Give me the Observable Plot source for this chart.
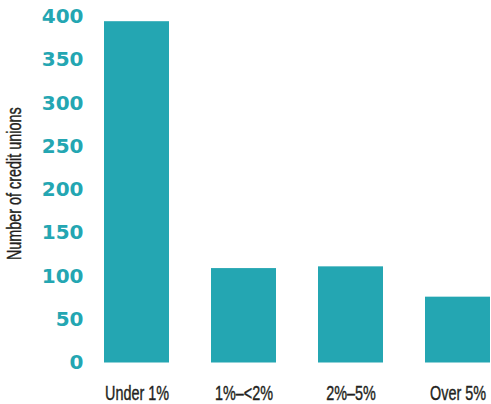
<!DOCTYPE html>
<html>
<head>
<meta charset="utf-8">
<script src="https://cdn.jsdelivr.net/npm/d3@7"></script>
<script src="https://cdn.jsdelivr.net/npm/@observablehq/plot@0.6"></script>
<style>
  html, body { margin: 0; padding: 0; background: #fff; }
  #chart svg { display: block; }
</style>
</head>
<body>
<div id="chart"></div>
<script>
const categories = ["Under 1%", "1%\u2013<2%", "2%\u20135%", "Over 5%"];
const counts = [394, 109, 111, 76];
const yTicks = [0, 50, 100, 150, 200, 250, 300, 350, 400];
const yLabel = "Number of credit unions";

const data = categories.map((c, i) => ({category: c, count: counts[i]}));
const teal = "#24a6b2";
const ink = "#231f20";
const sans = "'Liberation Sans', Arial, sans-serif";
const condense = 0.72;

const chart = Plot.plot({
  width: 491,
  height: 404,
  marginLeft: 104,
  marginRight: 0,
  marginTop: 16,
  marginBottom: 41.5,
  style: {background: "#fff", fontFamily: sans},
  x: {domain: categories, paddingInner: 0.39, paddingOuter: 0, label: null},
  y: {domain: [0, 400], label: null},
  marks: [
    Plot.barY(data, {x: "category", y: "count", fill: teal}),
    Plot.axisY({
      ticks: yTicks, tickSize: 0, tickPadding: 21, label: null,
      fill: teal, fontSize: 20, fontWeight: "bold",
      fontFamily: "'DejaVu Sans', sans-serif"
    }),
    Plot.axisX({
      tickSize: 0, tickPadding: 23, label: null,
      fill: ink, fontSize: 20, fontFamily: sans
    }),
    Plot.text([yLabel], {
      frameAnchor: "left", rotate: -90, dx: -90, dy: -6,
      fontSize: 20, fill: ink, fontFamily: sans, textAnchor: "middle"
    })
  ]
});
document.getElementById("chart").append(chart);
// condensed look: squeeze the narrow-font texts horizontally (along their own direction)
const narrowTexts = new Set([...categories, yLabel]);
chart.querySelectorAll("text").forEach((el) => {
  if (!narrowTexts.has(el.textContent.trim())) return;
  const t = el.getAttribute("transform") || "";
  el.setAttribute("transform", `${t} scale(${condense},1)`.trim());
  el.style.stroke = ink;
  el.style.strokeWidth = "0.4";
});
</script>
</body>
</html>
